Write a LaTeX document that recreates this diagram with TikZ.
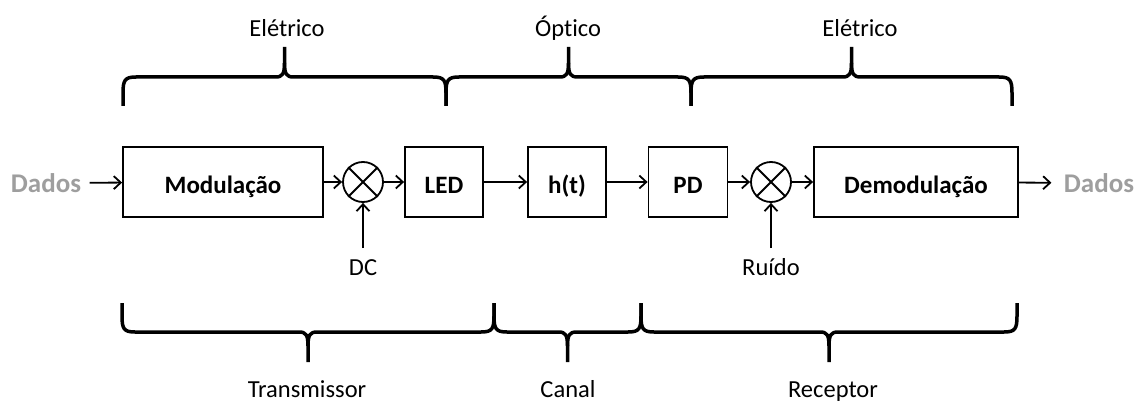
\documentclass[tikz,border=0pt]{standalone}
\usepackage{fontspec}
\setmainfont{Carlito}[Ligatures={NoCommon}]
\usepackage{tikz}
\usetikzlibrary{arrows.meta,positioning}
\definecolor{dados-cinza}{RGB}{158,158,158}

% chave: de x #1 a x #2, pontas em y #3, #4 = 1 (para baixo) ou -1 (para cima)
\newcommand{\chave}[4]{%
  \pgfmathsetmacro{\meio}{(#1+#2)/2}
  \begin{scope}[shift={(0,#3)}, yscale=#4]
    \draw[chave] (#1,0) -- (#1,13) .. controls (#1,26) and (#1+2,29) .. (#1+13,29)
      -- (\meio-9,29) .. controls (\meio-2,29) and (\meio,32) .. (\meio,43) -- (\meio,59);
    \draw[chave] (#2,0) -- (#2,13) .. controls (#2,26) and (#2-2,29) .. (#2-13,29)
      -- (\meio+9,29) .. controls (\meio+2,29) and (\meio,32) .. (\meio,43);
  \end{scope}}

\begin{document}
\begin{tikzpicture}[x=1pt, y=-1pt,
    bloco/.style={rectangle, draw, line width=1.8pt, minimum height=70pt, text height=26pt, text depth=4pt,
        font=\fontsize{25}{30}\selectfont\bfseries},
    mult/.style={circle, draw, line width=1.8pt, minimum size=40pt, inner sep=0pt},
    seta/.style={-{Straight Barb[length=7pt,width=13pt]}, line width=1.8pt},
    rotulo/.style={font=\fontsize{24.5}{29}\selectfont},
    entrada/.style={rotulo, anchor=north, text height=17pt, inner ysep=10pt},
    dados/.style={font=\fontsize{27}{32}\selectfont\bfseries, text=dados-cinza},
    chave/.style={line width=3.5pt, line join=round}]
    \useasboundingbox (0,0) rectangle (1137,401);

    \node[bloco, minimum width=200pt] (mod) at (223,182) {Modulação};
    \node[mult] (mx1) at (363,182) {};
    \node[bloco, minimum width=78pt] (led) at (444,182) {LED};
    \node[bloco, minimum width=78pt] (ht) at (567,182) {h(t)};
    \node[bloco, minimum width=79pt] (pd) at (688,182) {PD};
    \node[mult] (mx2) at (771,182) {};
    \node[bloco, minimum width=204pt] (demod) at (916,182) {Demodulação};
    \node[dados] (din) at (46,183) {Dados};
    \node[dados] (dout) at (1099,183) {Dados};
    \node[entrada] (dc) at (363,248) {DC};
    \node[entrada] (ruido) at (771,248) {Ruído};

    \foreach \m in {mx1,mx2}
        \draw[line width=1.8pt] (\m.north west) -- (\m.south east) (\m.north east) -- (\m.south west);

    \draw[seta, shorten <=5pt] (din) -- (mod);
    \draw[seta] (mod) -- (mx1);
    \draw[seta] (mx1) -- (led);
    \draw[seta] (led) -- (ht);
    \draw[seta] (ht) -- (pd);
    \draw[seta] (pd) -- (mx2);
    \draw[seta] (mx2) -- (demod);
    \draw[seta, shorten >=9pt] (demod) -- (dout);
    \draw[seta] (dc) -- (mx1);
    \draw[seta] (ruido) -- (mx2);

    % chaves de cima
    \chave{123}{446}{106}{-1}
    \chave{446}{691}{106}{-1}
    \chave{691}{1012}{106}{-1}
    \node[rotulo, anchor=base] (eletr1) at (287,37) {Elétrico};
    \node[rotulo, anchor=base] (optico) at (568,37) {Óptico};
    \node[rotulo, anchor=base] (eletr2) at (860,37) {Elétrico};

    % chaves de baixo
    \chave{122}{494}{303}{1}
    \chave{494}{641}{303}{1}
    \chave{641}{1017}{303}{1}
    \node[rotulo, anchor=base] (tx) at (307,397) {Transmissor};
    \node[rotulo, anchor=base] (canal) at (568,397) {Canal};
    \node[rotulo, anchor=base] (rx) at (833,397) {Receptor};
\end{tikzpicture}
\end{document}
